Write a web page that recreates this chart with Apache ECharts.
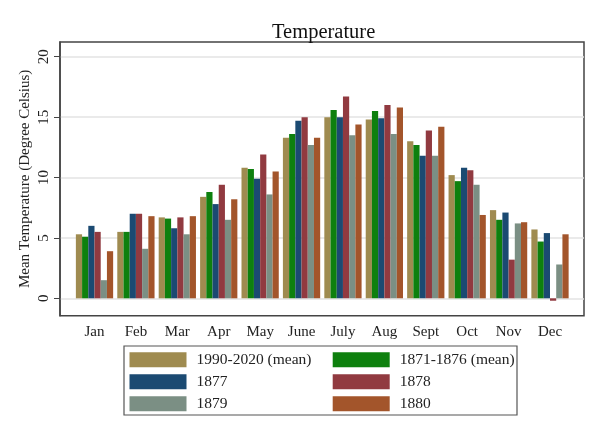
<!DOCTYPE html>
<html>
<head>
<meta charset="utf-8">
<script src="https://cdn.jsdelivr.net/npm/echarts@6/dist/echarts.min.js"></script>
<style>
  html, body { margin: 0; padding: 0; background: #fff; }
  #chart { width: 601px; height: 437px; }
</style>
</head>
<body>
<div id="chart"></div>
<script>
// Data
const months = ['Jan', 'Feb', 'Mar', 'Apr', 'May', 'June', 'July', 'Aug', 'Sept', 'Oct', 'Nov', 'Dec'];
const mean1990_2020 = [5.3, 5.5, 6.7, 8.4, 10.8, 13.3, 15.0, 14.8, 13.0, 10.2, 7.3, 5.7];
const mean1871_1876 = [5.1, 5.5, 6.6, 8.8, 10.7, 13.6, 15.6, 15.5, 12.7, 9.7, 6.5, 4.7];
const y1877 = [6.0, 7.0, 5.8, 7.8, 9.9, 14.7, 15.0, 14.9, 11.8, 10.8, 7.1, 5.4];
const y1878 = [5.5, 7.0, 6.7, 9.4, 11.9, 15.0, 16.7, 16.0, 13.9, 10.6, 3.2, -0.2];
const y1879 = [1.5, 4.1, 5.3, 6.5, 8.6, 12.7, 13.5, 13.6, 11.8, 9.4, 6.2, 2.8];
const y1880 = [3.9, 6.8, 6.8, 8.2, 10.5, 13.3, 14.4, 15.8, 14.2, 6.9, 6.3, 5.3];
const yTicks = [0, 5, 10, 15, 20];

const seriesNames = ['1990-2020 (mean)', '1871-1876 (mean)', '1877', '1878', '1879', '1880'];
const seriesData = [mean1990_2020, mean1871_1876, y1877, y1878, y1879, y1880];
const colors = ['#9f8b50', '#0e800e', '#1b4a72', '#913a40', '#7b8f84', '#a3552b'];

const FONT = '"Liberation Serif", "Times New Roman", serif';
const Y_MIN = -1.44, Y_MAX = 21.22;

const chart = echarts.init(document.getElementById('chart'));

const legendText = { fontFamily: FONT, fontSize: 15.5, color: '#222', lineHeight: 15, padding: [0, 0, 0, 5] };

const option = {
    animation: false,
    title: {
        text: 'Temperature',
        left: 267,
        top: 17,
        textStyle: { fontFamily: FONT, fontSize: 20.5, fontWeight: 'normal', color: '#111' }
    },
    grid: [
        // frame + gridlines
        { left: 60, right: 17, top: 42, bottom: 121.3, show: true, borderColor: '#444', borderWidth: 1.5, backgroundColor: '#fff' },
        // bars
        { left: 73.8, right: 30.3, top: 42, bottom: 121.3 }
    ],
    xAxis: [
        { gridIndex: 0, type: 'value', show: false, min: 0, max: 1 },
        {
            gridIndex: 1, type: 'category', data: months,
            axisLine: { show: false }, axisTick: { show: false },
            axisLabel: { margin: 9, fontFamily: FONT, fontSize: 15, color: '#222' }
        }
    ],
    yAxis: [
        {
            gridIndex: 0, type: 'value', min: Y_MIN, max: Y_MAX,
            name: 'Mean Temperature (Degree Celsius)', nameLocation: 'middle', nameGap: 27,
            nameMoveOverlap: false,
            nameTextStyle: { fontFamily: FONT, fontSize: 15, color: '#222' },
            axisLine: { show: true, lineStyle: { color: '#444', width: 1.5 } },
            axisTick: { show: true, length: 6, customValues: yTicks, lineStyle: { color: '#444' } },
            axisLabel: { rotate: 90, margin: 8, customValues: yTicks, fontFamily: FONT, fontSize: 15, color: '#222' },
            splitLine: { show: true, lineStyle: { color: '#e3e3e3', width: 1.5 } }
        },
        { gridIndex: 1, type: 'value', min: Y_MIN, max: Y_MAX, show: false, splitLine: { show: false } }
    ],
    legend: [
        {
            orient: 'vertical', left: 129.5, top: 351.8, padding: 0, itemGap: 6,
            itemWidth: 57, itemHeight: 15, icon: 'rect', selectedMode: false,
            data: [seriesNames[0], seriesNames[2], seriesNames[4]],
            textStyle: legendText
        },
        {
            orient: 'vertical', left: 332.7, top: 351.8, padding: 0, itemGap: 6,
            itemWidth: 57, itemHeight: 15, icon: 'rect', selectedMode: false,
            data: [seriesNames[1], seriesNames[3], seriesNames[5]],
            textStyle: legendText
        }
    ],
    graphic: [
        { type: 'rect', shape: { x: 124, y: 346, width: 393, height: 69 }, style: { fill: 'none', stroke: '#555', lineWidth: 1.2 } }
    ],
    series: seriesNames.map((name, i) => ({
        name: name,
        type: 'bar',
        xAxisIndex: 1,
        yAxisIndex: 1,
        data: seriesData[i],
        barGap: '0%',
        barCategoryGap: '10%',
        itemStyle: { color: colors[i] }
    }))
};

chart.setOption(option);
</script>
</body>
</html>
